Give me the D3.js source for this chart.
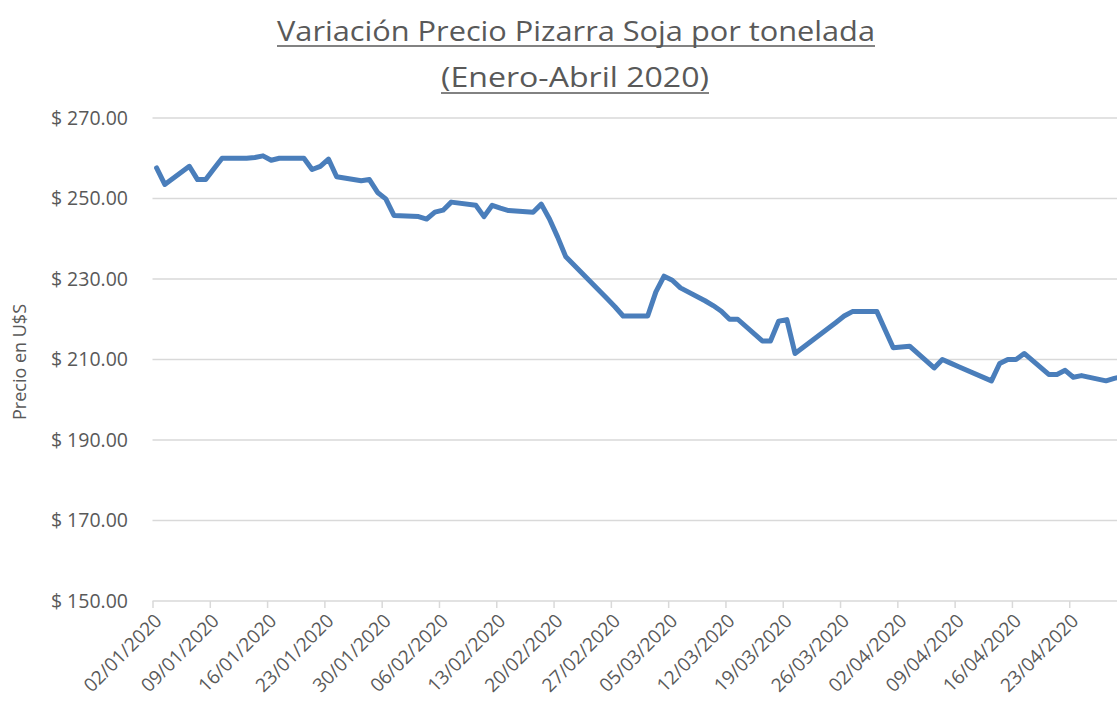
<!DOCTYPE html>
<html>
<head>
<meta charset="utf-8">
<script src="https://cdn.jsdelivr.net/npm/d3@7"></script>
<style>
  body { margin: 0; background: #fff; }
  svg { display: block; font-family: "Open Sans", sans-serif; }
</style>
</head>
<body>
<svg id="chart" width="1117" height="711"></svg>
<script>
// fechas (dias habiles) y precio pizarra soja en U$S/tn
var fechas = [
  "02/01/2020", "03/01/2020", "06/01/2020", "07/01/2020", "08/01/2020", "09/01/2020", "10/01/2020",
  "13/01/2020", "14/01/2020", "15/01/2020", "16/01/2020", "17/01/2020",
  "20/01/2020", "21/01/2020", "22/01/2020", "23/01/2020", "24/01/2020",
  "27/01/2020", "28/01/2020", "29/01/2020", "30/01/2020", "31/01/2020",
  "03/02/2020", "04/02/2020", "05/02/2020", "06/02/2020", "07/02/2020",
  "10/02/2020", "11/02/2020", "12/02/2020", "13/02/2020", "14/02/2020",
  "17/02/2020", "18/02/2020", "19/02/2020", "20/02/2020", "21/02/2020",
  "26/02/2020", "27/02/2020", "28/02/2020",
  "02/03/2020", "03/03/2020", "04/03/2020", "05/03/2020", "06/03/2020",
  "09/03/2020", "10/03/2020", "11/03/2020", "12/03/2020", "13/03/2020",
  "16/03/2020", "17/03/2020", "18/03/2020", "19/03/2020", "20/03/2020",
  "25/03/2020", "26/03/2020", "27/03/2020",
  "30/03/2020", "31/03/2020", "01/04/2020", "03/04/2020",
  "06/04/2020", "07/04/2020", "08/04/2020", "09/04/2020",
  "13/04/2020", "14/04/2020", "15/04/2020", "16/04/2020", "17/04/2020",
  "20/04/2020", "21/04/2020", "22/04/2020", "23/04/2020", "24/04/2020",
  "27/04/2020", "28/04/2020", "29/04/2020"
];
var precios = [
  257.6, 253.5, 258.0, 254.7, 254.7, 257.4, 260.0,
  260.0, 260.2, 260.6, 259.5, 260.0,
  260.0, 257.2, 258.0, 259.8, 255.4,
  254.4, 254.7, 251.5, 249.9, 245.8,
  245.5, 244.9, 246.6, 247.1, 249.1,
  248.3, 245.5, 248.3, 247.6, 247.0,
  246.6, 248.6, 244.9, 240.4, 235.5,
  225.2, 223.1, 220.8,
  220.8, 226.8, 230.7, 229.7, 227.8,
  224.6, 223.4, 222.0, 220.0, 220.0,
  214.6, 214.6, 219.5, 219.9, 211.5,
  219.2, 220.8, 221.9,
  221.9, 217.4, 212.9, 213.3,
  207.9, 210.0, 209.1, 208.2,
  204.7, 209.0, 210.0, 210.0, 211.5,
  206.3, 206.3, 207.3, 205.6, 206.0,
  204.7, 205.3, 205.8
];
var ticksY = [150, 170, 190, 210, 230, 250, 270];
var ticksX = [
  "02/01/2020", "09/01/2020", "16/01/2020", "23/01/2020", "30/01/2020",
  "06/02/2020", "13/02/2020", "20/02/2020", "27/02/2020",
  "05/03/2020", "12/03/2020", "19/03/2020", "26/03/2020",
  "02/04/2020", "09/04/2020", "16/04/2020", "23/04/2020"
];
var titulo1 = "Variación Precio Pizarra Soja por tonelada";
var titulo2 = "(Enero-Abril 2020)";
var tituloY = "Precio en U$S";

var parse = d3.timeParse("%d/%m/%Y");
var fmt = d3.timeFormat("%d/%m/%Y");

var data = fechas.map(function (f, i) {
  return {date: parse(f), value: precios[i]};
});

var svg = d3.select("#chart");
var textColor = "#595959";
var gridColor = "#d9d9d9";

var left = 152.5, dayW = 8.185;
var x = d3.scaleTime()
  .domain([parse("02/01/2020"), parse("01/05/2020")])
  .range([left, left + 120 * dayW]);
var y = d3.scaleLinear().domain([150, 270]).range([601, 118]);

// titulo
svg.append("text")
  .attr("x", 576).attr("y", 41)
  .attr("text-anchor", "middle")
  .attr("fill", textColor)
  .style("font-size", "28px")
  .attr("textLength", 598).attr("lengthAdjust", "spacingAndGlyphs")
  .text(titulo1);
svg.append("line")
  .attr("x1", 277).attr("x2", 875).attr("y1", 46).attr("y2", 46)
  .attr("stroke", textColor).attr("stroke-width", 1.5);

svg.append("text")
  .attr("x", 575).attr("y", 87)
  .attr("text-anchor", "middle")
  .attr("fill", textColor)
  .style("font-size", "28px")
  .attr("textLength", 268).attr("lengthAdjust", "spacingAndGlyphs")
  .text(titulo2);
svg.append("line")
  .attr("x1", 441).attr("x2", 709).attr("y1", 93).attr("y2", 93)
  .attr("stroke", textColor).attr("stroke-width", 1.5);

// grilla y etiquetas eje Y
var gy = svg.append("g");
gy.selectAll("line.grid")
  .data(ticksY.filter(function (d) { return d !== 150; }))
  .enter().append("line")
  .attr("class", "grid")
  .attr("x1", left).attr("x2", 1117)
  .attr("y1", function (d) { return y(d); })
  .attr("y2", function (d) { return y(d); })
  .attr("stroke", gridColor).attr("stroke-width", 1.5);

gy.selectAll("text")
  .data(ticksY)
  .enter().append("text")
  .attr("x", 128)
  .attr("y", function (d) { return y(d); })
  .attr("dy", "0.35em")
  .attr("text-anchor", "end")
  .attr("fill", textColor)
  .style("font-size", "19.5px")
  .text(function (d) { return "$ " + d.toFixed(2); });

svg.append("text")
  .attr("transform", "translate(26,362) rotate(-90)")
  .attr("text-anchor", "middle")
  .attr("fill", textColor)
  .style("font-size", "18px")
  .text(tituloY);

// eje X
var xAxis = d3.axisBottom(x)
  .tickValues(ticksX.map(parse))
  .tickSize(7)
  .tickSizeOuter(0)
  .tickFormat(fmt);

var gx = svg.append("g")
  .attr("transform", "translate(0," + y(150) + ")")
  .call(xAxis);
gx.select(".domain").attr("stroke", gridColor).attr("stroke-width", 1.5)
  .attr("d", "M" + left + ",0H1117");
gx.selectAll(".tick line").attr("stroke", gridColor).attr("stroke-width", 1.5);
gx.selectAll(".tick text")
  .attr("fill", textColor)
  .style("font-size", "19px")
  .style("font-family", "'Open Sans', sans-serif")
  .attr("text-anchor", "end")
  .attr("x", 0).attr("y", 0).attr("dy", 0)
  .attr("transform", "translate(10,21) rotate(-45)");

// linea de precios
var line = d3.line()
  .x(function (d) { return x(d3.timeHour.offset(d.date, 12)); })
  .y(function (d) { return y(d.value); });

svg.append("path")
  .datum(data)
  .attr("d", line)
  .attr("fill", "none")
  .attr("stroke", "#4a7ebb")
  .attr("stroke-width", 5)
  .attr("stroke-linejoin", "round")
  .attr("stroke-linecap", "round");
</script>
</body>
</html>
